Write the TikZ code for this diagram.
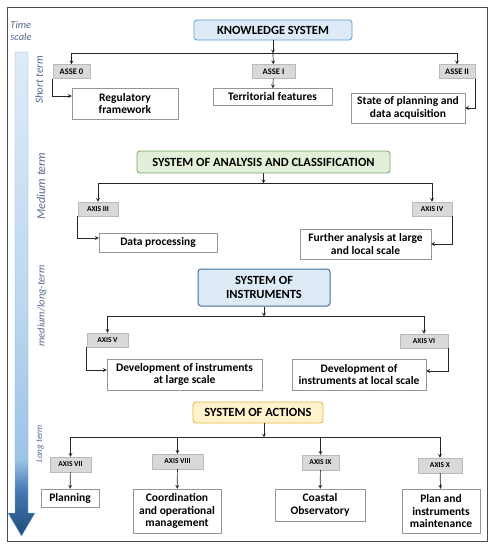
\documentclass[tikz,border=0pt]{standalone}
\usepackage{fontspec}
\setmainfont{Carlito}
\usepackage{xcolor}
\usepackage{tikz}
\usetikzlibrary{arrows,positioning,calc}

\definecolor{ksfill}{RGB}{222,235,247}
\definecolor{ksdraw}{RGB}{91,155,213}
\definecolor{sacfill}{RGB}{226,240,217}
\definecolor{sacdraw}{RGB}{120,165,100}
\definecolor{sinfill}{RGB}{222,235,247}
\definecolor{sindraw}{RGB}{65,113,156}
\definecolor{soafill}{RGB}{255,242,204}
\definecolor{soadraw}{RGB}{230,180,60}
\definecolor{axfill}{RGB}{217,217,217}
\definecolor{axdraw}{RGB}{185,185,185}
\definecolor{taskdraw}{RGB}{150,150,150}
\definecolor{labelblue}{RGB}{85,105,140}
\definecolor{tdark}{RGB}{31,78,121}
\definecolor{tdeep}{RGB}{70,120,180}
\definecolor{tmid}{RGB}{157,195,230}
\definecolor{tlight}{RGB}{189,215,238}
\definecolor{ttop}{RGB}{222,235,247}

\pgfdeclareverticalshading{timebar}{100bp}{color(0bp)=(tdark); color(25bp)=(tdark); color(29.7bp)=(tdeep); color(32.9bp)=(tmid); color(49bp)=(tlight); color(75bp)=(ttop); color(100bp)=(ttop)}

\begin{document}
\begin{tikzpicture}[
    x=1pt, y=-1pt,
    sysbox/.style={rectangle, rounded corners=3pt, line width=0.8pt, align=center, inner sep=1pt, font=\fontsize{12.5}{14}\selectfont\bfseries},
    axisbox/.style={rectangle, draw=axdraw, fill=axfill, inner sep=1pt, minimum height=14, font=\fontsize{7.5}{8}\selectfont\bfseries},
    assebox/.style={axisbox, font=\fontsize{8.5}{9}\selectfont\bfseries},
    taskbox/.style={rectangle, draw=taskdraw, fill=white, align=center, inner sep=1pt, font=\fontsize{11.5}{12.5}\selectfont\bfseries},
    tlabel/.style={text=labelblue, inner sep=0pt, font=\itshape},
    arrow/.style={->,>=stealth,line width=0.7pt,draw=black!85}
]
\useasboundingbox (0,0) rectangle (494,550);

% Outer frame
\draw[black!70, line width=0.9pt] (7,7) rectangle (487,541);

% Time scale
\node[tlabel, align=left, font=\fontsize{10.5}{12}\selectfont\itshape] (tscale) at (21,31) {Time\\scale};
\shade[shading=timebar, draw=ksdraw!80, line width=0.4pt]
  (15,52) -- (28,52) -- (28,513) -- (35,513) -- (21.5,536) -- (8,513) -- (15,513) -- cycle;
\node[tlabel, rotate=90, font=\fontsize{11}{12}\selectfont\itshape] (short) at (39,80) {Short term};
\node[tlabel, rotate=90, font=\fontsize{12}{13}\selectfont\itshape] (medium) at (41,186) {Medium term};
\node[tlabel, rotate=90, font=\fontsize{10.5}{12}\selectfont\itshape] (medlong) at (42,306) {medium/long-term};
\node[tlabel, rotate=90, font=\fontsize{9}{10}\selectfont\itshape] (long) at (40,444) {Long term};

% Knowledge system
\node[sysbox, draw=ksdraw, fill=ksfill, minimum width=158, minimum height=20] (ks) at (273,30) {KNOWLEDGE SYSTEM};
\node[assebox, minimum width=37] (a0) at (71.5,71.5) {ASSE 0};
\node[assebox, minimum width=43] (a1) at (273.5,71.5) {ASSE I};
\node[assebox, minimum width=36] (a2) at (457,71.5) {ASSE II};
\node[taskbox, minimum width=106, minimum height=31] (reg) at (125,103.5) {Regulatory\\framework};
\node[taskbox, minimum width=119, minimum height=17] (terr) at (272.5,97) {Territorial features};
\node[taskbox, minimum width=114, minimum height=30] (state) at (408,108) {State of planning and\\data acquisition};

\draw[arrow] (ks.south) -- ++(0,13) coordinate (kbus);
\draw[arrow] (kbus) -| (a0);
\draw[arrow] (kbus) -- (a1);
\draw[arrow] (kbus) -| (a2);
\draw[arrow] (a0.south west) |- ([yshift=7.5pt]reg.west);
\draw[arrow] (a1) -- (terr);
\draw[arrow] (a2.south east) |- (state.east);

% Analysis and classification
\node[sysbox, draw=sacdraw, fill=sacfill, minimum width=253, minimum height=22] (sac) at (263.5,162) {SYSTEM OF ANALYSIS AND CLASSIFICATION};
\node[axisbox, minimum width=40] (a3) at (98,209) {AXIS III};
\node[axisbox, minimum width=40] (a4) at (432,209) {AXIS IV};
\node[taskbox, minimum width=118, minimum height=19] (dp) at (158,242.5) {Data processing};
\node[taskbox, minimum width=131, minimum height=30] (fa) at (365.5,244) {Further analysis at large\\and local scale};

\draw[arrow] (sac.south) -- ++(0,10) coordinate (sbus);
\draw[arrow] (sbus) -| (a3);
\draw[arrow] (sbus) -| (a4);
\draw[arrow] (a3.south west) |- ([yshift=4.5pt]dp.west);
\draw[arrow] (a4.south east) |- (fa.east);

% Instruments
\node[sysbox, draw=sindraw, fill=sinfill, line width=1pt, minimum width=132, minimum height=37] (sin) at (264,287.5) {SYSTEM OF\\INSTRUMENTS};
\node[axisbox, minimum width=41] (a5) at (107.5,340) {AXIS V};
\node[axisbox, minimum width=48] (a6) at (424,341) {AXIS VI};
\node[taskbox, minimum width=155, minimum height=31] (dl) at (184.5,374.5) {Development of instruments\\at large scale};
\node[taskbox, minimum width=134, minimum height=31] (dloc) at (359,374.5) {Development of\\instruments at local scale};

\draw[arrow] (sin.south) -- ++(0,10) coordinate (ibus);
\draw[arrow] (ibus) -| (a5);
\draw[arrow] (ibus) -| (a6);
\draw[arrow] (a5.south west) |- ([yshift=4.5pt]dl.west);
\draw[arrow] (a6.south east) |- ([yshift=3.5pt]dloc.east);

% Actions
\node[sysbox, draw=soadraw, fill=soafill, minimum width=130, minimum height=21] (soa) at (258,412.5) {SYSTEM OF ACTIONS};
\node[axisbox, minimum width=41, minimum height=15] (a7) at (70.5,464.5) {AXIS VII};
\node[axisbox, minimum width=51, minimum height=15] (a8) at (177.5,461.5) {AXIS VIII};
\node[axisbox, minimum width=37, minimum height=15] (a9) at (320.5,462.5) {AXIS IX};
\node[axisbox, minimum width=44, minimum height=15] (a10) at (440,465.5) {AXIS X};
\node[taskbox, minimum width=58, minimum height=18] (plan) at (70,498) {Planning};
\node[taskbox, minimum width=88, minimum height=44] (coord) at (177,511) {Coordination\\and operational\\management};
\node[taskbox, minimum width=90, minimum height=32] (coast) at (320,505) {Coastal\\Observatory};
\node[taskbox, minimum width=78, minimum height=44] (maint) at (441,511) {Plan and\\instruments\\maintenance};

\draw[arrow] ([xshift=6pt]soa.south) -- ++(0,14) coordinate (abus);
\draw[arrow] (abus) -| (a7);
\draw[arrow] (abus) -| (a8);
\draw[arrow] (abus) -| (a9);
\draw[arrow] (abus) -| (a10);
\draw[arrow] (a7) -- (plan);
\draw[arrow] (a8) -- (coord);
\draw[arrow] (a9) -- (coast);
\draw[arrow] (a10) -- (maint);

\end{tikzpicture}
\end{document}
